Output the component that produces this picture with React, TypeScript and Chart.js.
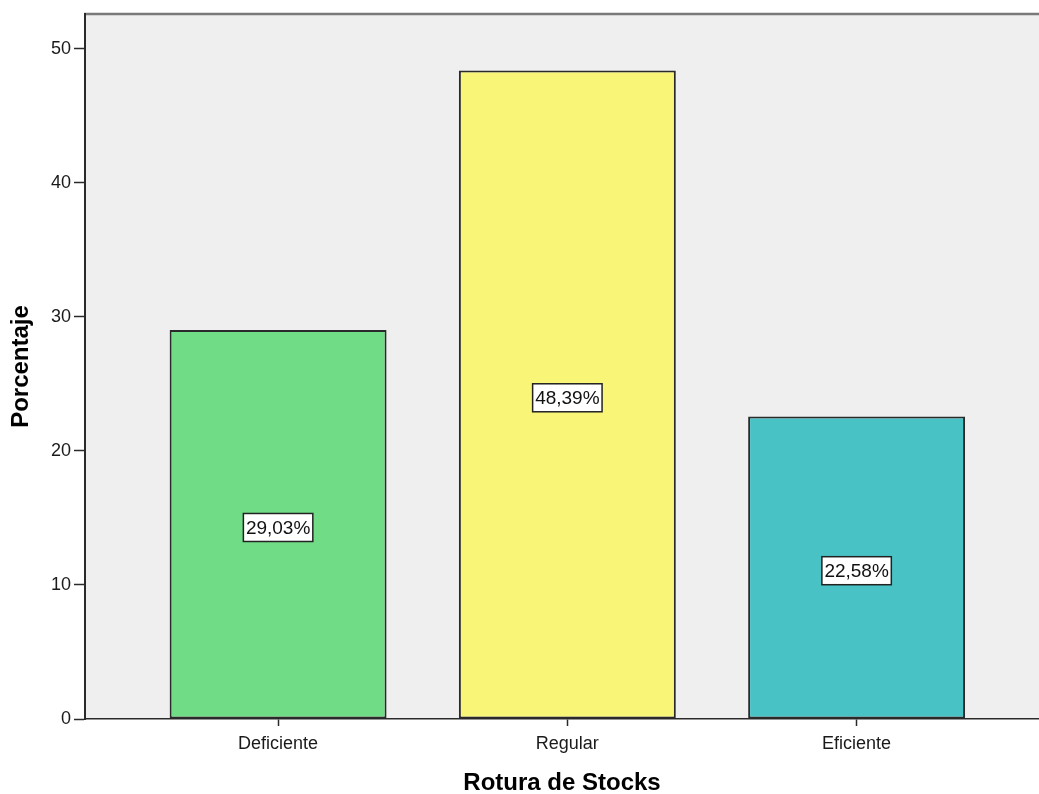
import { useEffect, useRef } from "react";
import { Chart, registerables } from "chart.js";

Chart.register(...registerables);

// Frequency of stock-outs, as a percentage of cases
const categories = ["Deficiente", "Regular", "Eficiente"];
const percentages = [29.03, 48.39, 22.58];
const barColors = ["#70DC85", "#F9F576", "#48C2C5"];
const yTickValues = [0, 10, 20, 30, 40, 50];
const xTitle = "Rotura de Stocks";
const yTitle = "Porcentaje";

const FONT = "'Liberation Sans', Arial, sans-serif";

const formatPct = (v: number) => v.toFixed(2).replace(".", ",") + "%";

// Grey plot background plus the grey frame line along the top
const plotBackground = {
  id: "plotBackground",
  beforeDraw(chart: any) {
    const { ctx, chartArea } = chart;
    ctx.save();
    ctx.fillStyle = "#EFEFEF";
    ctx.fillRect(chartArea.left, chartArea.top, chartArea.right - chartArea.left, chartArea.bottom - chartArea.top);
    ctx.strokeStyle = "#7A7A7A";
    ctx.lineWidth = 2.5;
    ctx.beginPath();
    ctx.moveTo(chartArea.left - 1, chartArea.top);
    ctx.lineTo(chartArea.right, chartArea.top);
    ctx.stroke();
    ctx.restore();
  },
};

// Boxed percentage labels in the middle of each bar
const boxedLabels = {
  id: "boxedLabels",
  afterDatasetsDraw(chart: any) {
    const { ctx } = chart;
    const meta = chart.getDatasetMeta(0);
    const yScale = chart.scales.y;
    ctx.save();
    ctx.font = `19px ${FONT}`;
    ctx.textAlign = "center";
    ctx.textBaseline = "middle";
    meta.data.forEach((bar: any, i: number) => {
      const value = percentages[i];
      const text = formatPct(value);
      const cx = bar.x;
      const cy = yScale.getPixelForValue(value / 2) + 3;
      const w = ctx.measureText(text).width + 5;
      const h = 28;
      ctx.fillStyle = "#FFFFFF";
      ctx.fillRect(cx - w / 2, cy - h / 2, w, h);
      ctx.strokeStyle = "#222222";
      ctx.lineWidth = 1.5;
      ctx.strokeRect(cx - w / 2, cy - h / 2, w, h);
      ctx.fillStyle = "#111111";
      ctx.fillText(text, cx, cy + 1);
    });
    ctx.restore();
  },
};

export default function App() {
  const canvasRef = useRef<HTMLCanvasElement | null>(null);

  useEffect(() => {
    if (!canvasRef.current) return;
    const chart = new Chart(canvasRef.current, {
      type: "bar",
      data: {
        datasets: [
          {
            data: percentages.map((v, i) => ({ x: i, y: v })),
            backgroundColor: barColors,
            borderColor: "#2A2A2A",
            borderWidth: 2,
            borderSkipped: false,
            barPercentage: 0.75,
            categoryPercentage: 1,
          },
        ],
      },
      options: {
        responsive: false,
        animation: false,
        layout: { padding: { top: 14, left: 0, right: 0, bottom: 0 } },
        plugins: {
          legend: { display: false },
          tooltip: { enabled: false },
        },
        scales: {
          x: {
            type: "linear",
            offset: false,
            min: -0.6676,
            max: 2.6306,
            afterBuildTicks: (scale: any) => {
              scale.ticks = categories.map((_, i) => ({ value: i }));
            },
            afterFit: (scale: any) => {
              scale.height = 75;
            },
            grid: {
              offset: false,
              drawOnChartArea: false,
              drawTicks: true,
              tickLength: 7,
              tickWidth: 1.5,
              tickColor: "#2A2A2A",
            },
            border: { display: true, color: "#2A2A2A", width: 1.5 },
            ticks: {
              padding: 7,
              color: "#1A1A1A",
              font: { family: FONT, size: 18 },
              callback: (v: any) => categories[v] ?? "",
            },
            title: {
              display: true,
              text: xTitle,
              color: "#000000",
              font: { family: FONT, size: 24, weight: "bold", lineHeight: 0.9 },
              padding: 0,
            },
          },
          y: {
            type: "linear",
            min: 0,
            max: 52.61,
            afterBuildTicks: (scale: any) => {
              scale.ticks = yTickValues.map((v) => ({ value: v }));
            },
            afterFit: (scale: any) => {
              scale.width = 85;
            },
            grid: {
              drawOnChartArea: false,
              drawTicks: true,
              tickLength: 11,
              tickWidth: 1.5,
              tickColor: "#2A2A2A",
            },
            border: { display: true, color: "#2A2A2A", width: 2 },
            ticks: {
              padding: 3,
              color: "#1A1A1A",
              font: { family: FONT, size: 18 },
              callback: (v: any) => String(v),
            },
            title: {
              display: true,
              text: yTitle,
              color: "#000000",
              font: { family: FONT, size: 24, weight: "bold", lineHeight: 0.9 },
              padding: { top: 11, bottom: 0 },
            },
          },
        },
      },
      plugins: [plotBackground, boxedLabels],
    });
    return () => chart.destroy();
  }, []);

  return (
    <div style={{ position: "fixed", left: 0, top: 0, width: 1039, height: 794, background: "#FFFFFF" }}>
      <canvas ref={canvasRef} width={1039} height={794} style={{ display: "block" }} />
    </div>
  );
}
